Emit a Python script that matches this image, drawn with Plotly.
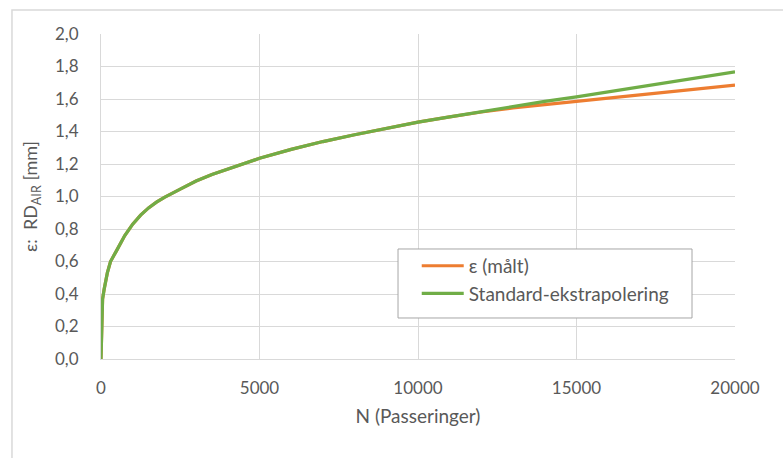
import plotly.graph_objects as go

# Number of passes (N)
passes = [0, 50, 100, 150, 200, 300, 400, 500, 750, 1000, 1250, 1500, 1750,
          2000, 2500, 3000, 3500, 4000, 4500, 5000, 6000, 7000, 8000, 9000,
          10000, 11000, 12000, 13000, 14000, 15000, 16000, 17000, 18000,
          19000, 20000]

# Measured rut depth [mm]
measured = [0.0, 0.37, 0.43, 0.48, 0.53, 0.60, 0.64, 0.67, 0.76, 0.83, 0.885,
            0.93, 0.965, 0.995, 1.045, 1.095, 1.135, 1.17, 1.205, 1.235, 1.29,
            1.338, 1.38, 1.42, 1.458, 1.49, 1.52, 1.545, 1.565, 1.586, 1.607,
            1.627, 1.647, 1.666, 1.686]

# Standard extrapolation [mm]
extrapolated = [0.0, 0.37, 0.43, 0.48, 0.53, 0.60, 0.64, 0.67, 0.76, 0.83,
                0.885, 0.93, 0.965, 0.995, 1.045, 1.095, 1.135, 1.17, 1.205,
                1.235, 1.29, 1.338, 1.38, 1.42, 1.458, 1.49, 1.523, 1.555,
                1.585, 1.613, 1.643, 1.673, 1.705, 1.736, 1.767]

x_ticks = [0, 5000, 10000, 15000, 20000]
y_ticks = [0.0, 0.2, 0.4, 0.6, 0.8, 1.0, 1.2, 1.4, 1.6, 1.8, 2.0]

FONT = "Lato"
TXT = "#595959"
GRID = "#D9D9D9"

fig = go.Figure()
fig.add_trace(go.Scatter(x=passes, y=measured, mode="lines", name="ε (målt)",
                         legendgroup="a",
                         line=dict(color="#ED7D31", width=3.2)))
fig.add_trace(go.Scatter(x=passes, y=extrapolated, mode="lines",
                         name="Standard-ekstrapolering", legendgroup="b",
                         line=dict(color="#70AD47", width=3.2)))

# Light frame around the chart area
fig.add_shape(type="rect", xref="paper", yref="paper",
              x0=-0.1404, x1=1.3, y0=-0.5, y1=1.074,
              line=dict(color=GRID, width=1.5), fillcolor="rgba(0,0,0,0)",
              layer="below")

# Legend frame (white box with grey border)
fig.add_shape(type="rect", xref="paper", yref="paper",
              x0=0.4685, x1=0.9322, y0=0.1262, y1=0.3385,
              line=dict(color="#A6A6A6", width=1), fillcolor="white",
              layer="above")

fig.update_layout(
    width=783, height=458,
    margin=dict(l=101, r=48, t=34, b=99),
    paper_bgcolor="white", plot_bgcolor="white",
    separators=", ",
    font=dict(family=FONT, color=TXT, size=15),
    showlegend=True,
    legend=dict(x=0.498, y=0.345, xanchor="left", yanchor="top",
                bgcolor="rgba(0,0,0,0)", borderwidth=0,
                font=dict(family=FONT, size=19, color=TXT),
                tracegroupgap=10, itemwidth=42,
                traceorder="normal"),
    xaxis=dict(range=[0, 20000], tickvals=x_ticks, tickformat="d",
               showgrid=True, gridcolor=GRID, gridwidth=1,
               showline=True, linecolor=GRID, linewidth=1, mirror=False,
               zeroline=False, ticks="", ticklabelstandoff=14,
               tickfont=dict(size=17, color=TXT),
               title=dict(text="N (Passeringer)", font=dict(size=19, color=TXT),
                          standoff=12)),
    yaxis=dict(range=[0, 2.0], tickvals=y_ticks, tickformat=".1f",
               showgrid=True, gridcolor=GRID, gridwidth=1,
               showline=True, linecolor=GRID, linewidth=1,
               zeroline=False, ticks="", ticklabelstandoff=18,
               tickfont=dict(size=17, color=TXT),
               title=dict(text="ε:&nbsp; RD<sub>AIR</sub> [mm]",
                          font=dict(size=18, color=TXT), standoff=12)),
)

fig.write_html("out.html")
